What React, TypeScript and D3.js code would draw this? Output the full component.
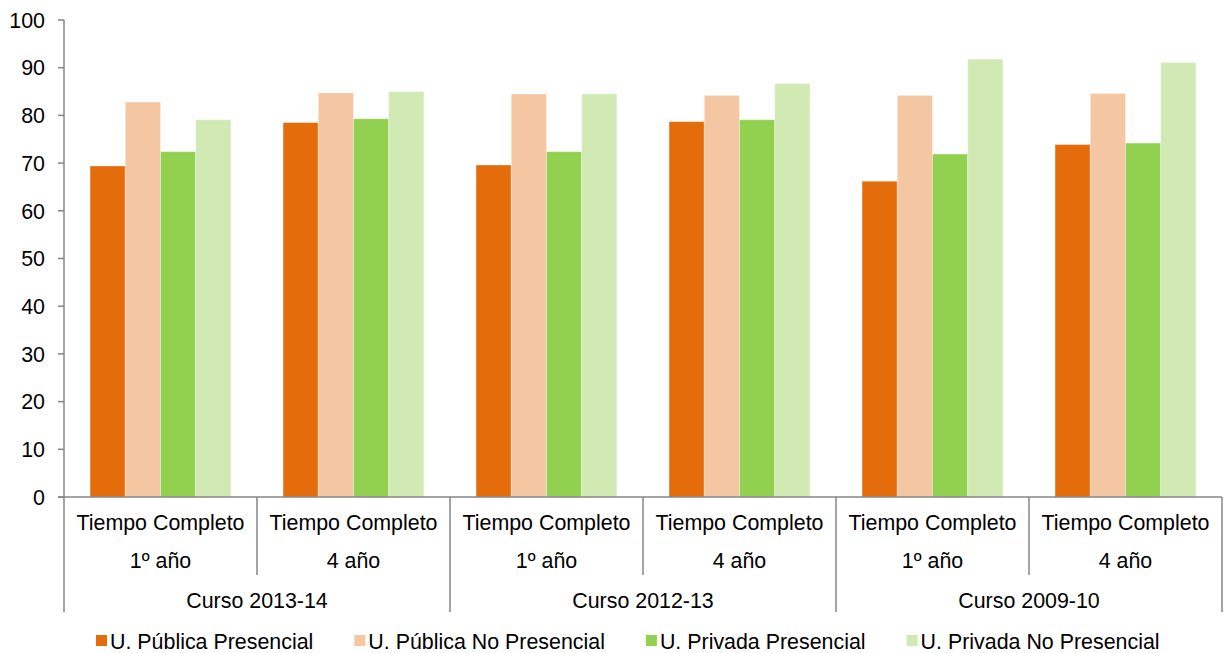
import { useEffect, useRef } from 'react'
import * as d3 from 'd3'

const courses = ['Curso 2013-14', 'Curso 2012-13', 'Curso 2009-10']
const subLabels = ['1º año', '4 año']
const groupTitle = 'Tiempo Completo'
const seriesNames = [
  'U. Pública Presencial',
  'U. Pública No Presencial',
  'U. Privada Presencial',
  'U. Privada No Presencial'
]
const seriesColors = ['#E46C0A', '#F5C6A2', '#92D050', '#D1EAB4']
// one row per group (course x year), one value per series
const values = [
  [69.4, 82.8, 72.4, 79.1],
  [78.5, 84.7, 79.3, 85.0],
  [69.6, 84.5, 72.4, 84.5],
  [78.7, 84.2, 79.1, 86.7],
  [66.2, 84.2, 71.9, 91.8],
  [73.9, 84.6, 74.2, 91.1]
]
const yTicks = [0, 10, 20, 30, 40, 50, 60, 70, 80, 90, 100]

export default function App() {
  const ref = useRef<SVGSVGElement | null>(null)

  useEffect(() => {
    if (!ref.current) return
    const svg = d3.select(ref.current)
    svg.selectAll('*').remove()

    const width = 1227
    const height = 653
    const margin = { top: 20, right: 5, bottom: 156, left: 64 }
    const font = 'Liberation Sans, Arial, sans-serif'
    const fs = 21.4
    const axisColor = '#868686'

    const groups = d3.range(values.length)
    const x0 = d3.scaleBand<number>()
      .domain(groups)
      .range([margin.left, width - margin.right])
    const x1 = d3.scaleBand<number>()
      .domain(d3.range(seriesNames.length))
      .range([x0.bandwidth() * 0.135, x0.bandwidth() * 0.865])
    const y = d3.scaleLinear()
      .domain([0, 100])
      .range([height - margin.bottom, margin.top])

    const y0 = y(0)

    // Bars
    const g = svg.append('g')
    groups.forEach(gi => {
      values[gi].forEach((v, si) => {
        g.append('rect')
          .attr('x', x0(gi)! + x1(si)!)
          .attr('y', y(v))
          .attr('width', x1.bandwidth())
          .attr('height', y0 - y(v))
          .attr('fill', seriesColors[si])
          .attr('stroke', '#ffffff')
          .attr('stroke-opacity', 0.35)
          .attr('stroke-width', 1)
      })
    })

    // Y axis
    svg.append('line')
      .attr('x1', margin.left).attr('x2', margin.left)
      .attr('y1', y(100)).attr('y2', y0)
      .attr('stroke', axisColor).attr('stroke-width', 1.5)
    yTicks.forEach(t => {
      svg.append('line')
        .attr('x1', margin.left - 6).attr('x2', margin.left)
        .attr('y1', y(t)).attr('y2', y(t))
        .attr('stroke', axisColor).attr('stroke-width', 1.5)
      svg.append('text')
        .attr('x', margin.left - 19)
        .attr('y', y(t))
        .attr('dy', '0.36em')
        .attr('text-anchor', 'end')
        .attr('font-family', font)
        .attr('font-size', fs)
        .attr('fill', '#000')
        .text(t)
    })

    // X axis baseline
    svg.append('line')
      .attr('x1', margin.left - 6).attr('x2', width - margin.right)
      .attr('y1', y0).attr('y2', y0)
      .attr('stroke', axisColor).attr('stroke-width', 1.5)

    // Separators
    const bw = x0.bandwidth()
    for (let i = 0; i <= groups.length; i++) {
      const xx = margin.left + i * bw
      const long = i % 2 === 0
      svg.append('line')
        .attr('x1', xx).attr('x2', xx)
        .attr('y1', y0).attr('y2', long ? y0 + 115 : y0 + 78)
        .attr('stroke', axisColor).attr('stroke-width', 1.5)
    }

    // Category labels
    groups.forEach(gi => {
      const cx = x0(gi)! + bw / 2
      svg.append('text')
        .attr('x', cx).attr('y', y0 + 25)
        .attr('dy', '0.36em')
        .attr('text-anchor', 'middle')
        .attr('font-family', font).attr('font-size', fs)
        .text(groupTitle)
      svg.append('text')
        .attr('x', cx).attr('y', y0 + 63)
        .attr('dy', '0.36em')
        .attr('text-anchor', 'middle')
        .attr('font-family', font).attr('font-size', fs)
        .text(subLabels[gi % 2])
    })
    courses.forEach((c, ci) => {
      const cx = margin.left + (ci * 2 + 1) * bw
      svg.append('text')
        .attr('x', cx).attr('y', y0 + 103)
        .attr('dy', '0.36em')
        .attr('text-anchor', 'middle')
        .attr('font-family', font).attr('font-size', fs)
        .text(c)
    })

    // Legend
    const legend = svg.append('g')
    let lx = 96
    const ly = 641
    seriesNames.forEach((name, si) => {
      legend.append('rect')
        .attr('x', lx).attr('y', ly - 6)
        .attr('width', 11).attr('height', 11)
        .attr('fill', seriesColors[si])
      const t = legend.append('text')
        .attr('x', lx + 14).attr('y', ly)
        .attr('dy', '0.36em')
        .attr('font-family', font).attr('font-size', fs)
        .text(name)
      const w = (t.node() as SVGTextElement).getComputedTextLength()
      lx += 14 + w + 41
    })

    svg.attr('width', width).attr('height', height)
  }, [])

  return (
    <div style={{ position: 'absolute', left: 0, top: 0, background: '#fff' }}>
      <svg ref={ref} style={{ display: 'block' }}></svg>
    </div>
  )
}
